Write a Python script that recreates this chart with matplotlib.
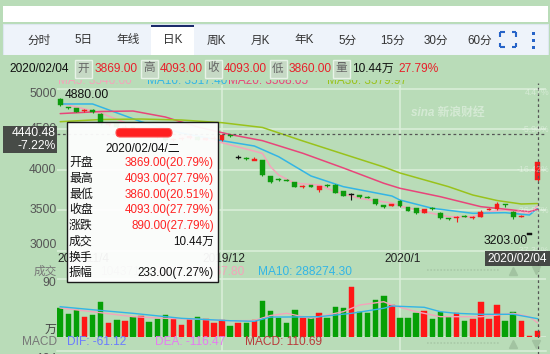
import numpy as np
import matplotlib
matplotlib.use("Agg")
import matplotlib.pyplot as plt
from matplotlib.patches import Rectangle, FancyBboxPatch
from matplotlib.transforms import blended_transform_factory as btf

plt.rcParams['font.family'] = ['Liberation Sans', 'Noto Sans CJK SC', 'DejaVu Sans']

# ---------------- data ----------------
tabs = ["分时", "5日", "年线", "日K", "周K", "月K", "年K", "5分", "15分", "30分", "60分"]
first_date_label = "2019/11/4"
month_labels = ["2019/12", "2020/1"]
month_start = [20, 42]
cursor_date = "2020/02/04"

opens = [4875, 4772, 4759, 4720, 4725, 4690, 4550, 4570, 4510, 4525,
         4465, 4475, 4430, 4400, 4360, 4380, 4390, 4405, 4370, 4380,
         4364, 4430, 4150, 4138, 4115, 4117, 3923, 3885, 3872, 3842,
         3785, 3800, 3747, 3802, 3805, 3735, 3690, 3685, 3660, 3636,
         3552, 3553, 3615, 3535, 3521, 3467, 3525, 3467, 3395, 3405,
         3430, 3405, 3417, 3505, 3509, 3575, 3479, 3415, 3203, 3869]
highs = [4880, 4775, 4762, 4745, 4745, 4695, 4590, 4580, 4545, 4530,
         4495, 4480, 4440, 4410, 4395, 4405, 4420, 4410, 4395, 4410,
         4440, 4440, 4175, 4150, 4150, 4120, 3925, 3895, 3880, 3850,
         3805, 3810, 3800, 3815, 3815, 3740, 3712, 3690, 3670, 3640,
         3565, 3580, 3625, 3540, 3525, 3512, 3540, 3470, 3405, 3430,
         3440, 3430, 3495, 3525, 3602, 3580, 3485, 3435, 3203, 4093]
lows = [4790, 4745, 4705, 4705, 4700, 4550, 4540, 4510, 4500, 4460,
        4455, 4420, 4390, 4350, 4350, 4370, 4380, 4360, 4360, 4370,
        4355, 4400, 4135, 4115, 4115, 3925, 3830, 3860, 3860, 3780,
        3775, 3785, 3719, 3790, 3710, 3670, 3622, 3650, 3645, 3565,
        3530, 3545, 3535, 3485, 3450, 3460, 3505, 3390, 3375, 3356,
        3410, 3395, 3410, 3500, 3500, 3541, 3389, 3410, 3203, 3860]
closes = [4800, 4766, 4712, 4728, 4720, 4560, 4575, 4520, 4530, 4470,
          4480, 4430, 4400, 4360, 4380, 4395, 4410, 4370, 4385, 4395,
          4426, 4410, 4150, 4130, 4120, 3932, 3850, 3875, 3866, 3790,
          3792, 3793, 3796, 3798, 3715, 3677, 3690, 3657, 3655, 3570,
          3546, 3574, 3545, 3491, 3459, 3509, 3518, 3398, 3390, 3412,
          3420, 3412, 3479, 3515, 3570, 3568, 3417, 3425, 3203, 4093]
volumes = [44.8, 36.0, 42.1, 31.8, 34.4, 54.0, 22.5, 26.7, 25.6, 31.8,
           32.9, 24.1, 28.2, 34.4, 30.2, 19.0, 27.8, 31.8, 27.8, 21.6,
           26.7, 17.4, 21.6, 21.6, 26.7, 56.0, 41.0, 29.3, 22.5, 42.1,
           30.2, 30.2, 38.0, 30.2, 47.2, 45.7, 78.1, 39.5, 38.0, 57.6,
           63.7, 49.8, 30.2, 30.2, 37.0, 40.6, 28.2, 39.5, 31.8, 37.0,
           25.6, 28.2, 54.9, 28.2, 49.8, 25.6, 39.5, 25.6, 2.0, 10.44]

ma5_idx = [0, 5, 9, 13, 17, 20, 25, 26, 27, 29, 32, 34, 37, 41, 42, 45, 48, 51, 53, 55, 58, 59]
ma5_val = [4821, 4698, 4540, 4440, 4380, 4331, 4200, 4035, 3932, 3830, 3809, 3726, 3644, 3586, 3549, 3479, 3417, 3417, 3479, 3500, 3459, 3547]
ma10_idx = [0, 4, 10, 15, 20, 24, 27, 31, 35, 41, 42, 46, 51, 55, 58, 59]
ma10_val = [4809, 4809, 4590, 4450, 4356, 4290, 4158, 3920, 3788, 3673, 3623, 3521, 3459, 3467, 3438, 3517]
ma20_idx = [0, 5, 9, 13, 17, 21, 25, 30, 35, 40, 42, 47, 52, 56, 58, 59]
ma20_val = [4690, 4716, 4722, 4648, 4525, 4432, 4356, 4200, 4019, 3830, 3768, 3664, 3541, 3500, 3479, 3508]
ma30_idx = [0, 5, 10, 15, 20, 25, 30, 35, 40, 42, 48, 51, 54, 57, 59]
ma30_val = [4590, 4617, 4623, 4611, 4578, 4519, 4352, 4191, 4031, 3957, 3788, 3685, 3617, 3574, 3580]

vma5_idx = [0, 4, 9, 13, 17, 21, 24, 26, 28, 31, 35, 37, 40, 41, 44, 47, 50, 52, 54, 56, 58, 59]
vma5_val = [45.2, 39.5, 31.8, 29.3, 27.8, 25.6, 25.9, 33.6, 37.0, 29.3, 39.5, 49.8, 54.9, 49.8, 39.5, 31.8, 31.8, 31.8, 34.4, 37.0, 31.8, 22.5]
vma10_idx = [0, 5, 9, 15, 21, 24, 26, 28, 32, 36, 40, 41, 45, 47, 49, 52, 56, 59]
vma10_val = [47.2, 41.4, 37.0, 29.3, 25.6, 24.7, 31.3, 31.3, 31.8, 37.0, 44.8, 48.3, 46.3, 39.5, 37.0, 35.5, 35.5, 28.8]

price_ticks = [5000, 4500, 4000, 3500, 3000]
price_tick_labels = ["5000", "4500", "4000", "3500", "3000"]
pct_tick_labels = ["4.47%", "-5.98%", "-16.42%", "-26.87%", "-37.32%"]
high_label = "4880.00"
low_label = "3203.00"
cursor_price = 4440.48
cursor_pct = "-7.22%"
vol_tick = 90

info_items = [("开", "3869.00"), ("高", "4093.00"), ("收", "4093.00"), ("低", "3860.00"), ("量", "10.44万")]
info_pct = "27.79%"
ma_legend = ["MA5: 3546.60", "MA10: 3517.40", "MA20: 3508.05", "MA30: 3579.97"]
tip_date = "2020/02/04/二"
tip_rows = [("开盘", "3869.00(20.79%)"), ("最高", "4093.00(27.79%)"), ("最低", "3860.00(20.51%)"),
            ("收盘", "4093.00(27.79%)"), ("涨跌", "890.00(27.79%)"), ("成交", "10.44万"),
            ("换手", ""), ("振幅", "233.00(7.27%)")]
vol_legend = ["成交", "104371", "MA5: 206267.80", "MA10: 288274.30"]
macd_legend = ["DIF: -61.12", "DEA: -116.47", "MACD: 110.69"]

# ---------------- style ----------------
BG = '#b9dcb8'
GRID = '#dcefdb'
RED = '#f41c1c'
GREEN = '#0d9a0d'
VRED = '#ff1616'
VGREEN = '#06a006'
MA_COLORS = ['#f5a3bb', '#33b5e5', '#e8457a', '#99c21b']
W, H = 550, 354

def rect(x0, y0, x1, y1):
    return [x0 / W, 1 - y1 / H, (x1 - x0) / W, (y1 - y0) / H]

fig = plt.figure(figsize=(5.5, 3.54), dpi=100, facecolor=BG)

# layout of the data panels (pixels)
X0, X1 = 57, 546
step = 8.09
first_x = 60.2
xlim = ((X0 - first_x) / step, (X1 - first_x) / step)
MAIN_T, MAIN_B = 85, 254
def price_at(y):
    return 4000 - (y - 169.5) / 0.081
VOL_T, VOL_B = 262, 337.3

# background grid frame
gax = fig.add_axes(rect(X0, MAIN_T, X1, 351), zorder=0)
gax.set_xlim(*xlim); gax.set_ylim(0, 1); gax.axis('off')
for m in month_start:
    gax.axvline(m, color=GRID, lw=1.1)

# main axes
ax = fig.add_axes(rect(X0, MAIN_T, X1, MAIN_B), zorder=1)
ax.set_facecolor('none')
ax.set_xlim(*xlim)
ax.set_ylim(price_at(MAIN_B), price_at(MAIN_T))
for s in ax.spines.values():
    s.set_visible(False)
ax.set_xticks([]); ax.set_yticks([])
for p in price_ticks:
    ax.axhline(p, color=GRID, lw=1.1, zorder=0)

o = np.array(opens, float); c = np.array(closes, float)
hi = np.array(highs, float); lo = np.array(lows, float)
idx = np.arange(len(c))
ccol = np.where(c > o, RED, np.where(c < o, GREEN, '#111111'))
ax.vlines(idx, lo, hi, colors=ccol, lw=0.8, zorder=3)
bh = np.abs(c - o)
minh = 14
bottom = np.where(bh < minh, (o + c) / 2 - minh / 2, np.minimum(o, c))
ax.bar(idx, np.maximum(bh, minh), bottom=bottom, width=0.6, color=ccol,
       edgecolor=ccol, lw=0.3, zorder=4)

for xs, ys, col in zip([ma5_idx, ma10_idx, ma20_idx, ma30_idx],
                       [ma5_val, ma10_val, ma20_val, ma30_val], MA_COLORS):
    ax.plot(xs, ys, color=col, lw=1.1, zorder=2, solid_capstyle='round')

imax = int(np.argmax(hi))
ax.annotate(high_label, xy=(imax, hi[imax]), xytext=(3.5, 2.5), textcoords='offset points',
            ha='left', va='center', fontsize=8.7, color='#111', zorder=6)
imin = int(np.argmin(lo))
ax.annotate(low_label, xy=(imin, lo[imin]), xytext=(-1.5, -5), textcoords='offset points',
            ha='right', va='center', fontsize=8.7, color='#111', zorder=6)
ax.axhline(cursor_price, color='#555555', lw=0.9, ls=(0, (2.2, 2.2)), zorder=5)

# volume axes
vax = fig.add_axes(rect(X0, VOL_T, X1, VOL_B), zorder=1)
vax.set_facecolor('none')
vax.set_xlim(*xlim)
vax.set_ylim(0, (VOL_B - VOL_T) / 0.648)
for s in vax.spines.values():
    s.set_visible(False)
vax.set_xticks([]); vax.set_yticks([])
vax.axhline(vol_tick, color=GRID, lw=1.1, zorder=0)
vax.axhline(0, color=GRID, lw=1.1, zorder=0)
vcol = np.where(c >= o, VRED, VGREEN)
vax.bar(idx, volumes, width=0.68, color=vcol, edgecolor=vcol, lw=0.3, zorder=3)
vax.plot(vma5_idx, vma5_val, color=MA_COLORS[0], lw=1.0, zorder=4)
vax.plot(vma10_idx, vma10_val, color=MA_COLORS[1], lw=1.0, zorder=4)

# crosshair frame
cax = fig.add_axes(rect(X0, MAIN_T - 2, X1, H), zorder=5)
cax.set_xlim(*xlim); cax.set_ylim(0, 1); cax.axis('off')
cax.axvline(len(c) - 1, color='#555555', lw=0.9, ls=(0, (2.2, 2.2)))

# overlay for page decorations
ov = fig.add_axes([0, 0, 1, 1], zorder=10)
ov.set_xlim(0, W); ov.set_ylim(H, 0); ov.axis('off')
ov.patch.set_alpha(0)

# top white strip and tab bar
ov.add_patch(Rectangle((3, 6), 545, 15.5, fc='white', ec='none'))
ov.add_patch(Rectangle((3, 24), 545, 30.5, fc='#eef3fa', ec='#dde7f0', lw=0.8))
ov.add_patch(Rectangle((151, 25), 43, 29.5, fc='white', ec='none'))
ov.add_patch(Rectangle((151, 25), 43, 2.4, fc='#1c2b6b', ec='none'))
tab_x = [39.5, 84, 128, 173, 216, 260.5, 304, 347.5, 392, 436, 480]
for t, x in zip(tabs, tab_x):
    ov.text(x, 40.5, t, ha='center', va='center', fontsize=8.4, color='#333333')
BLUE = '#2764c8'
for (xa, ya, dx, dy) in [(500, 32, 1, 1), (516, 32, -1, 1), (500, 47, 1, -1), (516, 47, -1, -1)]:
    ov.plot([xa, xa + 4.5 * dx], [ya, ya], color=BLUE, lw=1.5, solid_capstyle='butt')
    ov.plot([xa, xa], [ya, ya + 4.5 * dy], color=BLUE, lw=1.5, solid_capstyle='butt')
for yy in [31.5, 38.5, 45.5]:
    ov.add_patch(Rectangle((531.5, yy), 3, 3, fc=BLUE, ec='none'))

# MA legend row (top half hidden under info row)
ma_x = [58, 147, 228, 327]
for t, x, col in zip(ma_legend, ma_x, MA_COLORS):
    ov.text(x, 80.5, t, ha='left', va='center', fontsize=8.5, color=col, zorder=2)
ov.add_patch(Rectangle((0, 55), W, 24.8, fc=BG, ec='none', zorder=3))

# info row
ov.text(9, 68.5, cursor_date, ha='left', va='center', fontsize=8.6, color='#111', zorder=4)
box_x = [75, 140.5, 204.5, 269.5, 333]
for (lab, val), bx in zip(info_items, box_x):
    ov.add_patch(Rectangle((bx, 59.5), 17, 18, fc='#c6d9c5', ec='#e8f3e8', lw=1, zorder=4))
    ov.text(bx + 8.5, 68.5, lab, ha='center', va='center', fontsize=8.4, color='#666666', zorder=5)
    ov.text(bx + 19.5, 68.5, val, ha='left', va='center', fontsize=8.6,
            color='#111' if lab == "量" else '#e8202a', zorder=5)
ov.text(398, 68.5, info_pct, ha='left', va='center', fontsize=8.6, color='#e8202a', zorder=5)

# price axis labels
trp = btf(ov.transData, ax.transData)
for p, lbl in zip(price_ticks, price_tick_labels):
    dy = -3.6 if p == max(price_ticks) else (4.0 if p == min(price_ticks) else 0)
    ov.annotate(lbl, xy=(56.5, p), xycoords=trp, xytext=(0, dy), textcoords='offset points',
                ha='right', va='center', fontsize=8.7, color='#555555', zorder=4)
for p, lbl in zip(price_ticks, pct_tick_labels):
    ov.annotate(lbl, xy=(549, p), xycoords=trp, xytext=(0, -3 if p == max(price_ticks) else 0),
                textcoords='offset points', ha='right', va='center', fontsize=6.3,
                color='white', alpha=0.4, zorder=4)
ov.text(448, 113, "sina 新浪财经", ha='center', va='center', fontsize=8.5, color='white',
        alpha=0.4, style='italic', fontweight='bold', zorder=4)

# crosshair price box
ov.add_patch(Rectangle((3, 126), 54, 27, fc='#3b3b3b', ec='none', alpha=0.9, zorder=15))
ov.annotate("%.2f" % cursor_price, xy=(55.5, 133.5), ha='right', va='center', fontsize=8.7,
            color='white', zorder=16)
ov.text(55.5, 146, cursor_pct, ha='right', va='center', fontsize=8.7, color='white', zorder=16)

# date axis labels
trx = btf(ax.transData, ov.transData)
ov.text(xlim[0], 258.5, first_date_label, transform=trx, ha='left', va='center',
        fontsize=8.6, color='#222', zorder=5)
for m, lbl in zip(month_start, month_labels):
    ov.text(m + 0.3, 258.5, lbl, transform=trx, ha='center', va='center', fontsize=8.6,
            color='#222', zorder=5)
ov.add_patch(Rectangle((485, 251), 65, 14.5, fc='#3b3b3b', ec='none', alpha=0.92, zorder=15))
ov.text(517.5, 258.5, cursor_date, ha='center', va='center', fontsize=8.6, color='white', zorder=16)

# volume panel labels
trv = btf(ov.transData, vax.transData)
ov.text(57, 272, vol_legend[0], ha='right', va='center', fontsize=8.4, color='#777777', zorder=5)
ov.text(100, 272, vol_legend[1], ha='left', va='center', fontsize=8.6, color='#888888', zorder=5)
ov.text(157, 272, vol_legend[2], ha='left', va='center', fontsize=8.6, color=MA_COLORS[0], zorder=5)
ov.text(258, 272, vol_legend[3], ha='left', va='center', fontsize=8.6, color=MA_COLORS[1], zorder=5)
ov.annotate(str(vol_tick), xy=(56.5, vol_tick), xycoords=trv, xytext=(0, -3), textcoords='offset points',
            ha='right', va='center', fontsize=8.7, color='#555555', zorder=5)
ov.text(56, 329.5, "万", ha='right', va='center', fontsize=8.6, color='#444444', zorder=5)
for yy in [269.5, 342.5]:
    ov.plot([427, 500], [yy, yy], color='#a9c9a8', lw=1.2, ls=(0, (1, 1)), zorder=4)
ov.plot([513], [271], marker='^', color='#a2c3a1', ms=6, ls='none', zorder=4)
ov.plot([536], [270], marker='v', color='#a2c3a1', ms=6, ls='none', zorder=4)
ov.plot([513], [343.5], marker='^', color='#a2c3a1', ms=6, ls='none', zorder=4)
ov.plot([536], [343.5], marker='v', color='#a2c3a1', ms=6, ls='none', zorder=4)

# MACD row
ov.plot([X0, X1], [351, 351], color=GRID, lw=1.1, zorder=3)
ov.text(57, 342, "MACD", ha='right', va='center', fontsize=8.6, color='#777777', zorder=5)
for t, x, col in zip(macd_legend, [67, 155, 245], ['#6a7bff', '#e57cf0', '#b83a3a']):
    ov.text(x, 342, t, ha='left', va='center', fontsize=8.6, color=col, zorder=5)
ov.text(56.5, 352.5, "104", ha='right', va='top', fontsize=8.7, color='#555555', zorder=5)

# tooltip
ov.add_patch(Rectangle((67, 122), 151, 160, fc=(1, 1, 1, 0.94), ec='#1a1a1a', lw=1, zorder=20))
ov.add_patch(FancyBboxPatch((116, 128.5), 56, 8.5, boxstyle="round,pad=0,rounding_size=4.2",
                            fc='#ff1f1f', ec='#ff5050', lw=0.8, zorder=21))
ov.text(142.5, 148.5, tip_date, ha='center', va='center', fontsize=8.6, color='#111', zorder=22)
row_y = [163.3, 179, 195, 210.5, 226, 242, 258, 273]
for (lab, val), yy in zip(tip_rows, row_y):
    ov.text(69, yy, lab, ha='left', va='center', fontsize=8.6, color='#111', zorder=22)
    col = '#ff2424' if ('%' in val and lab not in ("振幅",)) else '#111'
    ov.text(214, yy, val, ha='right', va='center', fontsize=8.4, color=col, zorder=22)

fig.savefig('out.png', dpi=100, facecolor=BG)
